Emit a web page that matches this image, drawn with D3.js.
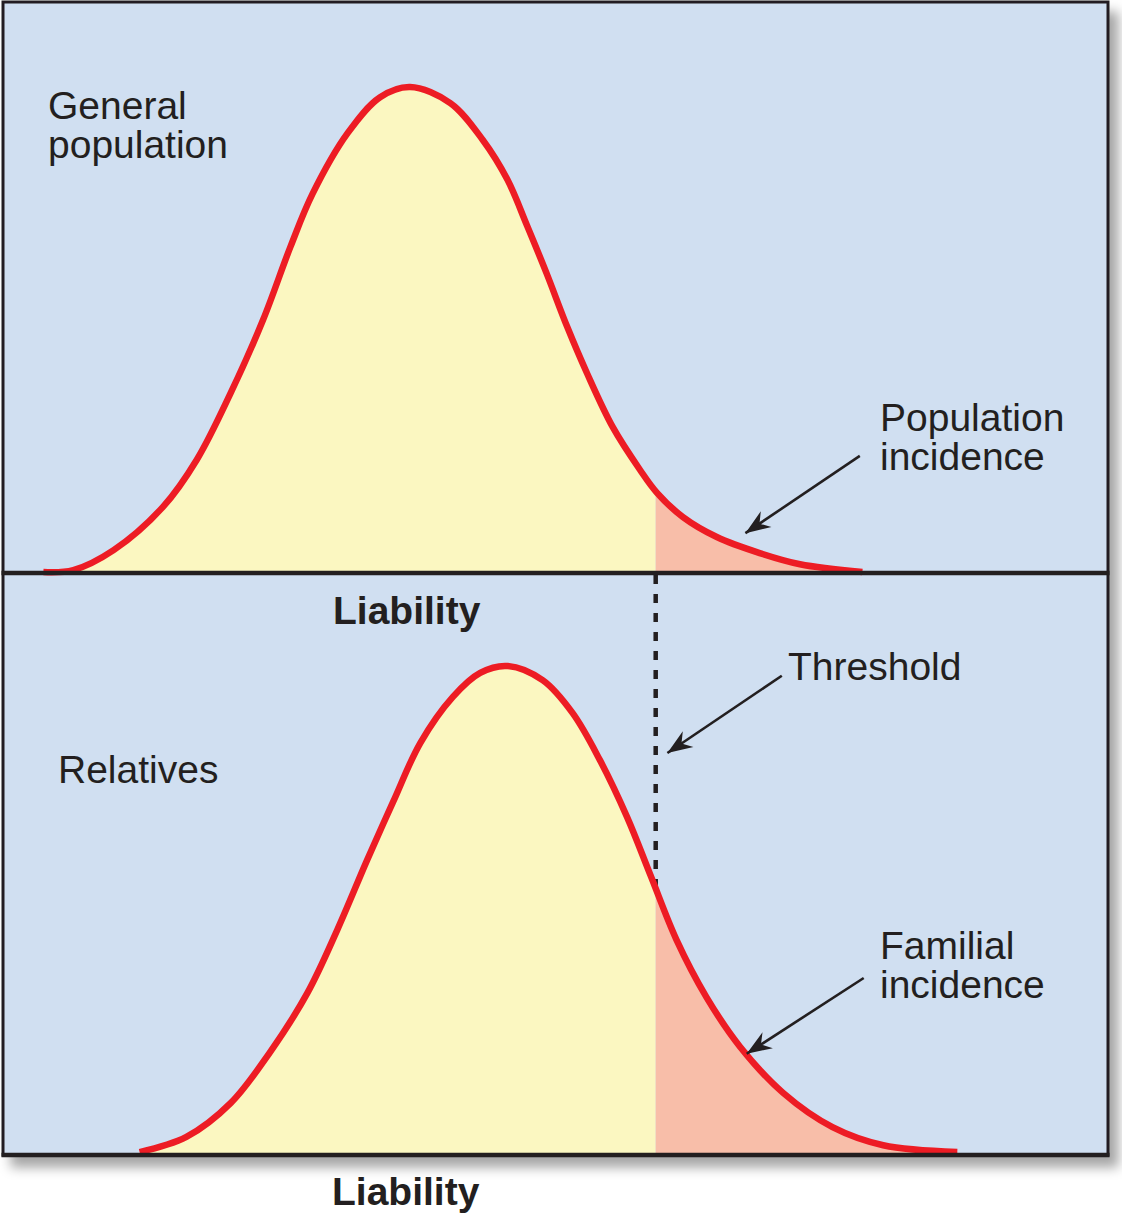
<!DOCTYPE html>
<html>
<head>
<meta charset="utf-8">
<script src="https://cdn.jsdelivr.net/npm/d3@7"></script>
<style>
  body { margin: 0; background: #ffffff; }
  text { font-family: "Liberation Sans", Arial, Helvetica, sans-serif; fill: #231f20; }
</style>
</head>
<body>
<div id="chart"></div>
<script>
// liability in population SD units, density relative to the peak
const populationLiability = [-2.82, -2.59, -2.28, -1.90, -1.64, -1.38, -1.13, -0.92, -0.75, -0.48, -0.23, 0,
  0.31, 0.56, 0.75, 0.90, 1.05, 1.21, 1.36, 1.56, 1.77, 1.90, 2.10, 2.36, 2.69, 3.00, 3.48];
const populationDensity = [0.002, 0.006, 0.047, 0.136, 0.233, 0.370, 0.521, 0.671, 0.780, 0.905, 0.979, 1,
  0.967, 0.891, 0.809, 0.715, 0.617, 0.506, 0.412, 0.300, 0.212, 0.165, 0.115, 0.074, 0.041, 0.018, 0.002];

const relativesLiability = [-2.08, -1.72, -1.38, -1.08, -0.79, -0.56, -0.33, -0.13, 0.08, 0.33, 0.54, 0.75,
  1.02, 1.25, 1.46, 1.67, 1.85, 2.05, 2.28, 2.54, 2.87, 3.25, 3.64, 4.21];
const relativesDensity = [0.006, 0.037, 0.106, 0.209, 0.331, 0.460, 0.603, 0.722, 0.843, 0.937, 0.986, 1,
  0.971, 0.904, 0.808, 0.691, 0.572, 0.440, 0.323, 0.221, 0.127, 0.057, 0.020, 0.006];

const threshold = 1.89;

// annotation arrows: [from, to] in (liability, density)
const popArrow = [[3.46, 0.241], [2.58, 0.082]];
const thresholdArrow = [[2.86, 0.98], [1.98, 0.822]];
const familialArrow = [[3.49, 0.362], [2.59, 0.207]];

const W = 1122, H = 1224;
const box = {left: 3, top: 2, right: 1108, bottom: 1155};
const midY = 573;

const colors = {
  bg: "#d0dff1", yellow: "#fbf7c1", salmon: "#f8bea9", red: "#ed1c24", ink: "#231f20"
};

const svg = d3.select("#chart").append("svg")
  .attr("width", W)
  .attr("height", H);

const defs = svg.append("defs");

const shadow = defs.append("filter").attr("id", "shadow")
  .attr("x", "-5%").attr("y", "-5%").attr("width", "115%").attr("height", "115%");
shadow.append("feDropShadow")
  .attr("dx", 9).attr("dy", 11).attr("stdDeviation", 6)
  .attr("flood-color", "#000").attr("flood-opacity", 0.35);

defs.append("marker")
  .attr("id", "arrowhead")
  .attr("markerUnits", "userSpaceOnUse")
  .attr("viewBox", "-26 -11 28 22")
  .attr("markerWidth", 28).attr("markerHeight", 22)
  .attr("refX", 0).attr("refY", 0)
  .attr("orient", "auto")
  .append("path")
  .attr("d", "M0,0 L-25,-9.5 L-17,0 L-25,9.5 Z")
  .attr("fill", colors.ink);

// background box with shadow
svg.append("rect")
  .attr("x", box.left).attr("y", box.top)
  .attr("width", box.right - box.left).attr("height", box.bottom - box.top)
  .attr("fill", colors.bg)
  .attr("stroke", colors.ink)
  .attr("stroke-width", 3)
  .attr("filter", "url(#shadow)");

// scales
const x = d3.scaleLinear().domain([-3, 5]).range([20, 1060]);
const yTop = d3.scaleLinear().domain([0, 1]).range([midY, 87]);
const yBottom = d3.scaleLinear().domain([0, 1]).range([box.bottom, 666]);

const xT = x(threshold);
const curve = d3.curveCatmullRom.alpha(0.5);

// clip paths left/right of threshold
defs.append("clipPath").attr("id", "clipLeft")
  .append("rect").attr("x", 0).attr("y", 0).attr("width", xT).attr("height", H);
defs.append("clipPath").attr("id", "clipRight")
  .append("rect").attr("x", xT).attr("y", 0).attr("width", W - xT).attr("height", H);

function drawPanel(liab, dens, y) {
  const data = liab.map((l, i) => ({l: l, d: dens[i]}));
  const g = svg.append("g");

  const area = d3.area()
    .x(d => x(d.l))
    .y0(y(0))
    .y1(d => y(d.d))
    .curve(curve);

  g.append("path").datum(data)
    .attr("d", area)
    .attr("fill", colors.yellow)
    .attr("clip-path", "url(#clipLeft)");

  g.append("path").datum(data)
    .attr("d", area)
    .attr("fill", colors.salmon)
    .attr("clip-path", "url(#clipRight)");

  return {g: g, data: data};
}

function drawCurve(panel, y) {
  const line = d3.line()
    .x(d => x(d.l))
    .y(d => y(d.d))
    .curve(curve);

  svg.append("path").datum(panel.data)
    .attr("d", line)
    .attr("fill", "none")
    .attr("stroke", colors.red)
    .attr("stroke-width", 6.5)
    .attr("stroke-linecap", "butt");
}

const topPanel = drawPanel(populationLiability, populationDensity, yTop);
const bottomPanel = drawPanel(relativesLiability, relativesDensity, yBottom);

// density of relatives at the threshold (linear between read points)
const bi = d3.bisectLeft(relativesLiability, threshold);
const frac = (threshold - relativesLiability[bi - 1]) / (relativesLiability[bi] - relativesLiability[bi - 1]);
const dAtThreshold = relativesDensity[bi - 1] + frac * (relativesDensity[bi] - relativesDensity[bi - 1]);

// dashed threshold line
svg.append("line")
  .attr("x1", xT).attr("x2", xT)
  .attr("y1", midY + 2).attr("y2", yBottom(dAtThreshold))
  .attr("stroke", colors.ink)
  .attr("stroke-width", 4.5)
  .attr("stroke-dasharray", "9,10");

drawCurve(topPanel, yTop);
drawCurve(bottomPanel, yBottom);

// baselines
svg.append("line")
  .attr("x1", box.left - 1.5).attr("x2", box.right + 1.5)
  .attr("y1", midY).attr("y2", midY)
  .attr("stroke", colors.ink).attr("stroke-width", 4.5);
svg.append("line")
  .attr("x1", box.left - 1.5).attr("x2", box.right + 1.5)
  .attr("y1", box.bottom).attr("y2", box.bottom)
  .attr("stroke", colors.ink).attr("stroke-width", 4.5);

// arrows
function drawArrow(pts, y) {
  svg.append("line")
    .attr("x1", x(pts[0][0])).attr("y1", y(pts[0][1]))
    .attr("x2", x(pts[1][0])).attr("y2", y(pts[1][1]))
    .attr("stroke", colors.ink)
    .attr("stroke-width", 2.6)
    .attr("marker-end", "url(#arrowhead)");
}
drawArrow(popArrow, yTop);
drawArrow(thresholdArrow, yBottom);
drawArrow(familialArrow, yBottom);

// labels
function label(lines, lx, ly, bold) {
  const tx = svg.append("text")
    .attr("x", lx).attr("y", ly)
    .style("font-size", "39px")
    .style("font-weight", bold ? "bold" : "normal");
  lines.forEach((s, k) => {
    tx.append("tspan").attr("x", lx).attr("dy", k === 0 ? 0 : 39).text(s);
  });
}

label(["General", "population"], 48, 119, false);
label(["Population", "incidence"], 880, 431, false);
label(["Threshold"], 788, 680, false);
label(["Relatives"], 58, 783, false);
label(["Familial", "incidence"], 880, 959, false);
label(["Liability"], 333, 624, true);
label(["Liability"], 332, 1205, true);
</script>
</body>
</html>
